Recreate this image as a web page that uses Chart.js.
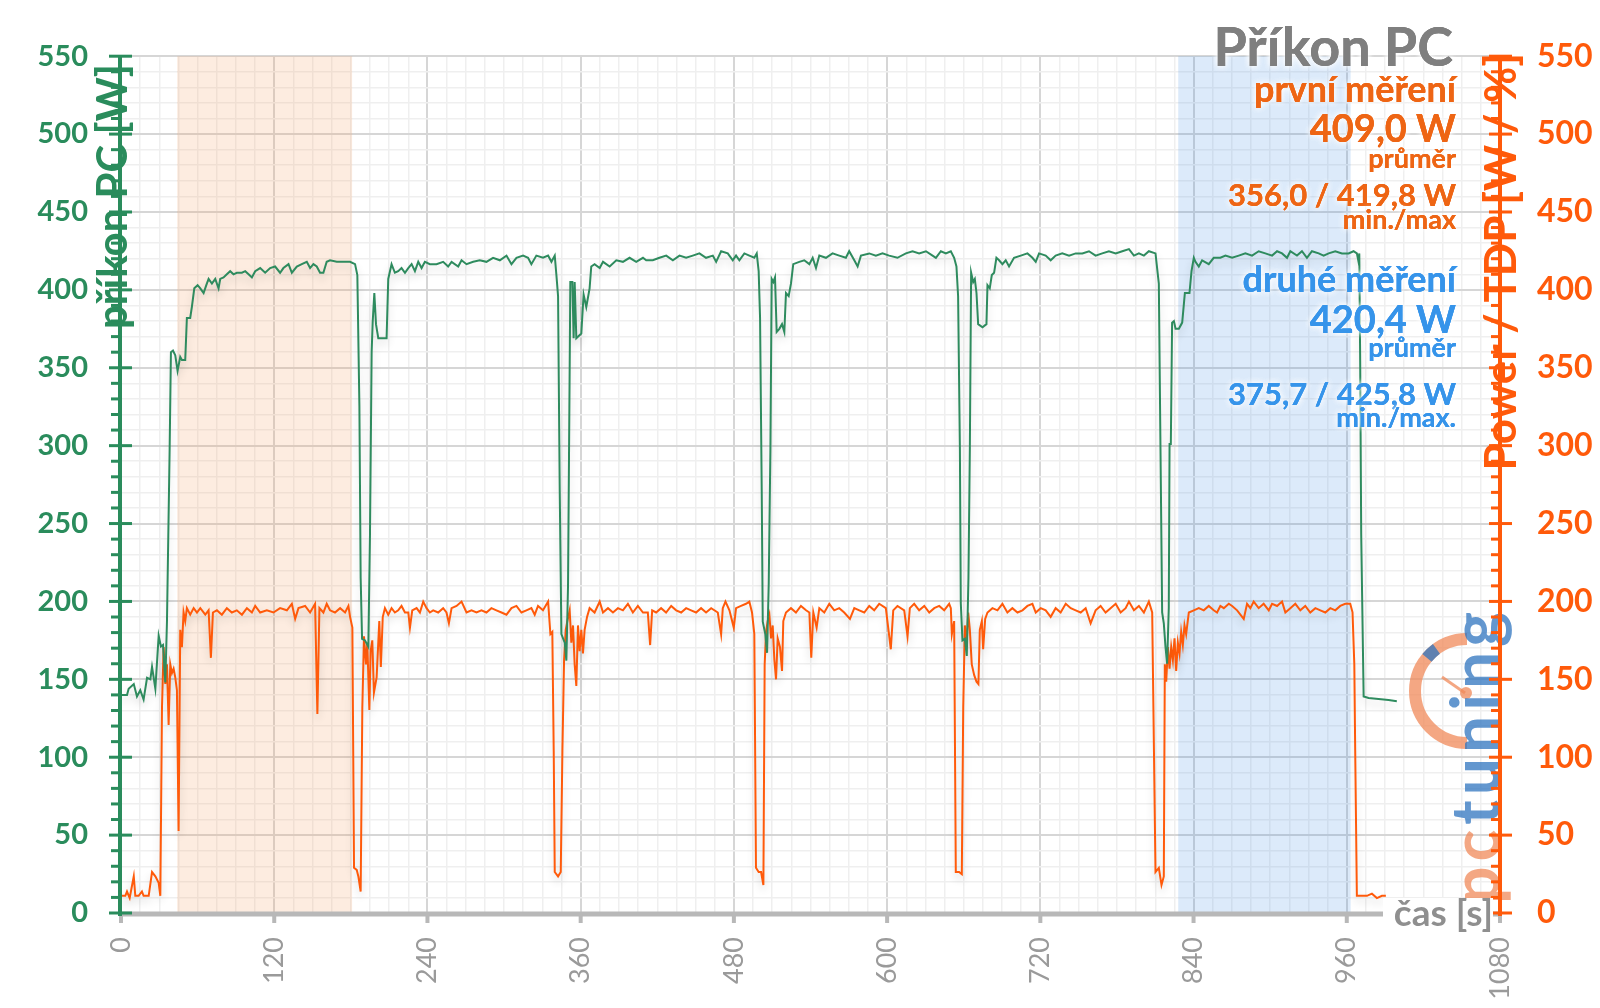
<!DOCTYPE html>
<html>
<head>
<meta charset="utf-8">
<script src="https://cdn.jsdelivr.net/npm/chart.js@4.4.1/dist/chart.umd.min.js"></script>
<style>
    body { margin: 0; background: #fff; }
    canvas { display: block; }
</style>
</head>
<body>
<canvas id="chart" width="1600" height="1008"></canvas>
<script>
// příkon PC [W] - time [s] / value
const pcTime = [
    0, 4.7, 6, 10, 12.5, 15.1, 17.7, 20.4, 23, 24.3, 26.9, 29.5, 31.3, 32.9, 34.7, 36, 38.1, 39.1, 40.7, 42.5,
    44.3, 46.4, 47.7, 50.3, 51.6, 54.2, 55.5, 57.4, 60, 62.1, 64.7, 66.8, 68.6, 71.2, 73.8, 76.4, 77.7, 80.3, 82.9, 85.5,
    88.1, 90.7, 94.7, 97.3, 99.9, 102.5, 105.1, 109, 112.9, 116.8, 120.7, 124.6, 127.2, 131.2, 133.8, 137.7, 141.6, 145.5, 148.1, 150.7,
    153.3, 155.9, 158.5, 161.1, 163.7, 169, 174.2, 179.4, 183.3, 185.1, 186.7, 187.7, 188.8, 191.1, 193.7, 195, 196.3, 197.1, 198.4, 199.7,
    201.5, 208, 209.3, 211.9, 214.5, 217.1, 219.7, 222.4, 225, 227.6, 230.2, 232.8, 235.4, 238, 241.9, 247.1, 252.3, 256.2, 258.9, 264.1,
    266.7, 270.6, 275.8, 281, 286.2, 291.4, 296.7, 301.9, 305.8, 309.7, 314.9, 318.8, 321.4, 325.3, 330.5, 334.5, 337.1, 339.7, 341, 342.3,
    343.6, 344.9, 347.5, 348.8, 350.1, 351.9, 353.5, 354.5, 355.3, 356.6, 360.5, 362.3, 364.4, 367, 368.3, 370.9, 374.9, 377.5, 382.7, 387.9,
    393.1, 398.3, 403.5, 408.8, 411.3, 416.5, 421.7, 427, 432.2, 437.4, 442.6, 447.8, 453, 458.2, 463.5, 466.1, 470, 475.2, 479.1, 481.7,
    484.3, 488.2, 492.1, 496, 497.9, 499.4, 500.5, 501.8, 502.6, 504.6, 506, 507.3, 508.6, 509.6, 510.9, 512.2, 513.5, 515.6, 517.7, 519.5,
    520.8, 522.9, 524.7, 526.5, 531.2, 535.1, 539.1, 541.7, 544.3, 546.9, 552.1, 557.3, 562.5, 567.7, 570.3, 574.3, 576.9, 579.5, 586, 591.2,
    596.4, 601.6, 608.1, 614.7, 619.9, 625.1, 630.4, 635.6, 638.2, 642.1, 646, 649.9, 652.5, 654.3, 655.6, 657, 657.7, 659, 660.9, 662.4,
    663.7, 664.8, 665.8, 667.4, 668.7, 670, 671.3, 674.7, 677.8, 678.6, 680.4, 682, 683.8, 685.6, 687.7, 690.3, 692.9, 695.5, 699.4, 704.7,
    709.9, 713.8, 716.4, 719, 724.2, 728.1, 732, 737.2, 742.5, 747.7, 752.9, 758.1, 763.3, 768.5, 773.7, 779, 784.2, 789.4, 793.3, 797.2,
    801.1, 805, 810.2, 812.8, 814.1, 815.4, 816.7, 818, 819.3, 820.6, 821.2, 822.2, 823.2, 824.6, 825.9, 828.5, 831.1, 833.2, 836.8, 838.4,
    840.2, 841.5, 844.1, 846.7, 851.9, 855.8, 861, 865, 870.2, 875.4, 880.6, 885.8, 891, 896.2, 901.5, 905.4, 909.3, 913.2, 915.8, 921,
    924.9, 928.8, 932.7, 938, 941.9, 945.8, 951, 956.2, 961.4, 965.3, 967.9, 969.2, 969.8, 970.5, 971.3, 973.2, 977.1, 984.9, 992.7, 999.2
];
const pcWatts = [
    140, 140, 144, 147, 139, 143, 137, 151, 150, 158, 144, 178, 171, 172, 148, 187, 298, 360, 361, 358,
    348, 357, 355, 355, 382, 382, 389, 401, 403, 401, 398, 403, 407, 404, 407, 401, 407, 408, 410, 412,
    410, 411, 411, 412, 410, 408, 412, 414, 411, 414, 415, 411, 414, 416.5, 411, 415, 416.5, 418, 414, 416.5,
    415, 411, 411, 418, 419, 418, 418, 418, 416.5, 409.5, 326, 215, 176, 175, 171, 243, 360, 379, 398, 378,
    369, 369, 407, 416.5, 411, 412, 414, 411, 414, 416.5, 412, 418, 414, 418, 416.5, 416.5, 418, 415, 418, 415,
    419, 416.5, 418, 419, 418, 420.6, 419, 422, 416.5, 420.6, 422, 420.6, 416.5, 422, 420.6, 422, 418, 422, 409.5, 396,
    271, 179, 173.5, 162, 210, 405, 405, 369, 405, 369, 372, 397, 389, 401, 415, 416.5, 414, 418, 415, 419,
    418, 420.6, 418, 420.6, 419, 419, 420.6, 422, 419, 422, 420.6, 422, 423.4, 420.6, 422, 418, 424.8, 423.4, 419, 422,
    419, 423.4, 422, 420.6, 423.4, 412, 382, 271, 187, 179, 167, 212, 298, 407, 405, 408, 373, 375, 378, 373,
    398, 396, 404, 416.5, 418, 419, 416.5, 420.6, 414, 422, 420.6, 423.4, 422, 420.6, 424.8, 419, 415, 422, 423.4, 422,
    423.4, 422, 420.6, 423.4, 424.8, 423.4, 424.8, 422, 420.6, 424.8, 423.4, 424.8, 420.6, 415, 396, 298, 199, 175, 176, 165,
    215, 298, 411, 405, 407, 398, 378, 376, 378, 403, 401, 409.5, 411, 420.6, 419, 416.5, 419, 415, 420.6, 422,
    423.4, 420.6, 418, 423.4, 422, 419, 422, 423.4, 422, 423.4, 423.4, 424.8, 422, 423.4, 424.8, 423.4, 424.8, 426.2, 422, 423.4,
    422, 424.8, 423.4, 404, 298, 193, 186, 171, 160, 196, 301, 301, 379, 380, 375, 375, 379, 398, 398, 412,
    420.6, 418, 415, 419, 416.5, 420.6, 420.6, 422, 420.6, 422, 423.4, 422, 424.8, 423.4, 422, 424.8, 423.4, 420.6, 424.8, 422,
    424.8, 420.6, 424.8, 423.4, 422, 423.4, 424.8, 423.4, 423.4, 424.8, 423.4, 418, 423.4, 354, 243, 139, 138, 137.4, 136.8, 136
];

// Power / TDP [W / %] - time [s] / value
const tdpTime = [
    0, 3.4, 4.7, 6.8, 10, 11.2, 13.8, 16.4, 17.7, 21.7, 24.3, 26.9, 29.5, 30.8, 32.1, 33.4, 34.7, 36, 37.3, 38.6,
    39.9, 41.2, 42.5, 43.8, 45.1, 46.4, 47.7, 49, 50.3, 51.6, 54.2, 56.9, 59.5, 62.1, 66, 68.6, 70.4, 72, 75.1, 79,
    82.9, 86.8, 90.7, 94.7, 98.6, 102.5, 105.1, 109, 114.2, 119.4, 124.6, 129.9, 133.8, 136.4, 139, 144.2, 148.1, 152, 153.8, 155.4,
    158.5, 161.1, 163.7, 167.6, 171.6, 175.5, 178.1, 179.4, 181.2, 182.5, 184.6, 185.9, 187.7, 189, 190.3, 191.9, 192.9, 194.5, 195.5, 196.8,
    198.1, 200.2, 202.3, 203.5, 205, 206.7, 209.3, 211.9, 214.5, 217.1, 219.7, 222.4, 225, 226.3, 228.1, 231.5, 234.1, 236.7, 239.3, 241.9,
    244.5, 248.4, 252.3, 254.9, 256.8, 258.9, 262.8, 266.7, 270.6, 274.5, 278.4, 282.3, 286.2, 290.1, 294, 298, 301.9, 305.8, 309.7, 313.6,
    317.5, 321.4, 324, 326.6, 330.5, 334.5, 336.3, 337.8, 338.9, 339.7, 342.3, 344.4, 345.7, 347, 348.3, 349.6, 351.4, 352.7, 354, 355.3,
    356.6, 357.9, 359.2, 360.5, 361.8, 363.1, 365, 367, 370.9, 374.9, 377.5, 381.4, 385.3, 389.2, 393.1, 397, 400.9, 404.8, 408.8, 412.6,
    414.4, 416, 419.1, 423, 426.9, 430.9, 434.8, 438.7, 442.6, 446.5, 450.4, 454.3, 458.2, 462.2, 467.4, 470, 471.3, 473.4, 476.5, 479.9,
    481.7, 485.6, 489.5, 492.1, 494.2, 496, 497.3, 499.4, 501.3, 503.1, 504.1, 505.2, 506.5, 507.8, 509.1, 510.4, 511.7, 513, 514.3, 516.1,
    517.7, 518.7, 520.8, 524.7, 528.6, 532.5, 536.5, 539.1, 540.6, 542.2, 544.8, 546.9, 550.8, 554.7, 558.6, 562.5, 566.4, 570.9, 574.3, 578.2,
    582.1, 586, 589.9, 593.8, 599, 602.9, 604.8, 608.1, 613.4, 616, 617.8, 621.2, 625.1, 629.1, 633, 636.9, 640.8, 644.7, 648.6, 649.9,
    650.7, 652.5, 653.8, 656.4, 658.5, 659.6, 660.9, 662.2, 663.5, 664.8, 666.3, 668.2, 670, 671.5, 672.6, 674.2, 675.2, 676.8, 678.6, 682.5,
    686.4, 690.3, 694.2, 698.1, 702.1, 706, 709.9, 713.8, 716.4, 720.3, 724.2, 728.1, 732, 735.9, 739.9, 743.8, 747.7, 751.6, 755.5, 759.4,
    763.3, 767.2, 771.1, 775, 779, 782.9, 786.8, 789.4, 793.3, 797.2, 801.1, 805, 807.6, 810.2, 812.8, 814.9, 816.7, 817.5, 818.6, 819.9,
    821.2, 822.5, 823.8, 825.1, 826.4, 827.7, 829, 830.3, 831.6, 832.9, 834.2, 836.3, 840.2, 844.1, 848, 851.9, 855.8, 858.4, 861, 863.7,
    867.6, 870.2, 874.1, 879.3, 881.9, 884.5, 887.1, 891, 894.9, 898.9, 901.5, 905.4, 909.3, 911.9, 915.8, 919.7, 923.6, 927.5, 931.4, 935.4,
    939.3, 943.2, 947.1, 951, 954.9, 958.8, 962.7, 964.5, 965.9, 966.6, 967.9, 971.8, 975.8, 979.7, 983.6, 987.5, 990.6
];
const tdpWatts = [
    11, 11, 13.8, 9.6, 23.5, 11, 11, 13.8, 11, 11, 26.3, 23.5, 19.4, 11, 131.8, 170.7, 147, 159.6, 120.7, 159.6,
    154, 156.8, 151.3, 143, 52.7, 181.8, 170.7, 193, 187.4, 195.7, 191.5, 195.7, 192.9, 195.7, 191.5, 194.3, 163.8, 192.9, 194.3, 191.5,
    195.7, 192.9, 194.3, 191.5, 195.7, 192.9, 197.1, 192.9, 194.3, 192.9, 195.7, 194.3, 198.5, 188.8, 195.7, 197.1, 192.9, 198.5, 127.7, 195.7,
    192.9, 198.5, 194.3, 192.9, 195.7, 192.9, 197.1, 190.1, 183.2, 29, 27.7, 23.5, 13.8, 131.8, 177.6, 159.6, 173.5, 130.4, 168, 175,
    141.5, 151.3, 187.4, 158, 190, 195.7, 191.5, 195.7, 192.9, 194.3, 197.1, 192.9, 192.9, 183.2, 194.3, 195.7, 192.9, 199.9, 195.7, 192.9,
    194.3, 192.9, 195.7, 192.9, 186, 195.7, 197.1, 199.9, 192.9, 194.3, 192.9, 194.3, 192.9, 195.7, 194.3, 192.9, 191.5, 195.7, 197.1, 192.9,
    194.3, 195.7, 191.5, 197.1, 194.3, 199.9, 179, 180.4, 104, 26.3, 23.5, 26.3, 104, 162.4, 181.8, 187.4, 194.3, 173.5, 184.6, 159.6,
    145.7, 184.6, 168, 181.8, 166.6, 181.8, 190.1, 195.7, 192.9, 199.9, 192.9, 195.7, 192.9, 195.7, 194.3, 198.5, 192.9, 197.1, 192.9, 192.9,
    172, 194.3, 192.9, 195.7, 192.9, 197.1, 194.3, 192.9, 195.7, 194.3, 192.9, 195.7, 192.9, 195.7, 192.9, 179, 195.7, 199.9, 194.3, 183.2,
    195.7, 197.1, 198.5, 199.9, 192.9, 179, 29, 26.3, 26.3, 18, 159.6, 180.4, 187.4, 191.5, 176.3, 184.6, 162.4, 150, 176.3, 170.7,
    155.4, 187.4, 192.9, 195.7, 192.9, 197.1, 194.3, 192.9, 163.8, 192.9, 183.2, 195.7, 192.9, 198.5, 194.3, 195.7, 192.9, 188.8, 195.7, 194.3,
    192.9, 197.1, 194.3, 198.5, 195.7, 169.3, 194.3, 197.1, 194.3, 177.6, 195.7, 198.5, 194.3, 197.1, 192.9, 195.7, 197.1, 194.3, 198.5, 195.7,
    179, 187.4, 26.3, 26.3, 24.9, 131.8, 184.6, 170.7, 192.9, 181.8, 159.6, 152.7, 148.5, 147, 181.8, 187.4, 169.3, 188.8, 192.9, 195.7,
    194.3, 198.5, 192.9, 195.7, 192.9, 194.3, 197.1, 198.5, 192.9, 195.7, 194.3, 190.1, 195.7, 192.9, 198.5, 195.7, 194.3, 192.9, 195.7, 186,
    194.3, 197.1, 192.9, 195.7, 198.5, 192.9, 195.7, 199.9, 194.3, 197.1, 192.9, 199.9, 193, 26.3, 29, 18, 23.5, 159.6, 148.5, 170.7,
    156.8, 170.7, 162.4, 176.3, 155.4, 173.5, 166.6, 180.4, 172, 184.6, 179, 192.9, 194.3, 195.7, 194.3, 197.1, 194.3, 192.9, 197.1, 195.7,
    198.5, 197.1, 194.3, 188.8, 198.5, 195.7, 199.9, 195.7, 198.5, 194.3, 198.5, 197.1, 199.9, 192.9, 195.7, 198.5, 194.3, 197.1, 192.9, 195.7,
    194.3, 192.9, 195.7, 194.3, 197.1, 198.5, 198.5, 193, 159.6, 104, 11, 11, 11, 12.4, 9.6, 11, 11
];

const xTickLabels = [0, 120, 240, 360, 480, 600, 720, 840, 960, 1080];
const yTickLabels = [0, 50, 100, 150, 200, 250, 300, 350, 400, 450, 500, 550];

// measured windows [s]
const firstRun = [44, 181];
const secondRun = [828, 963];

const firstLines = ["první měření", "409,0 W", "průměr", "356,0 / 419,8 W", "min./max"];
const secondLines = ["druhé měření", "420,4 W", "průměr", "375,7 / 425,8 W", "min./max."];

const GREEN = "#2a8c5c";
const ORANGE = "#ff5a0a";
const ORANGE_TEXT = "#ee6514";
const BLUE_TEXT = "#3694ea";
const FONT = "Lato, 'Open Sans', sans-serif";

function toPoints(times, values) {
    return times.map((t, i) => ({ x: t, y: values[i] }));
}

function haloText(ctx, text, x, y) {
    ctx.save();
    ctx.shadowColor = "rgba(255,255,255,1)";
    ctx.shadowBlur = 6;
    ctx.fillText(text, x, y);
    ctx.fillText(text, x, y);
    ctx.restore();
    ctx.fillText(text, x, y);
}

const decorPlugin = {
    id: "decor",
    beforeDatasetsDraw(chart) {
        const { ctx, chartArea, scales } = chart;
        const x = scales.x;
        ctx.save();
        // shaded measurement windows
        ctx.fillStyle = "rgba(245,160,100,0.2)";
        let a = x.getPixelForValue(firstRun[0]);
        let b = x.getPixelForValue(firstRun[1]);
        ctx.fillRect(a, chartArea.top, b - a, chartArea.bottom - chartArea.top);
        ctx.fillStyle = "rgba(60,140,230,0.18)";
        a = x.getPixelForValue(secondRun[0]);
        b = x.getPixelForValue(secondRun[1]);
        ctx.fillRect(a, chartArea.top, b - a, chartArea.bottom - chartArea.top);

        // watermark
        ctx.globalAlpha = 0.75;
        ctx.strokeStyle = "#f08a5a";
        ctx.lineWidth = 12;
        ctx.beginPath();
        ctx.arc(1467, 691, 52, Math.PI / 2, Math.PI * 1.5);
        ctx.stroke();
        ctx.strokeStyle = "#2f74bf";
        ctx.beginPath();
        ctx.arc(1467, 691, 52, Math.PI * 1.22, Math.PI * 1.3);
        ctx.stroke();
        ctx.strokeStyle = "#f08a5a";
        ctx.lineWidth = 3;
        ctx.beginPath();
        ctx.moveTo(1442, 677);
        ctx.lineTo(1465, 693);
        ctx.stroke();
        ctx.fillStyle = "#f08a5a";
        ctx.beginPath();
        ctx.arc(1466, 693, 6, 0, Math.PI * 2);
        ctx.fill();

        ctx.translate(1499, 904);
        ctx.rotate(-Math.PI / 2);
        ctx.font = "bold 66px " + FONT;
        ctx.letterSpacing = "5px";
        ctx.textAlign = "left";
        ctx.fillStyle = "#f08a5a";
        ctx.fillText("pc", 0, 0);
        const w = ctx.measureText("pc").width;
        ctx.fillStyle = "#2f74bf";
        ctx.fillText("tuning", w, 0);
        ctx.restore();
    },
    beforeDatasetDraw(chart) {
        const ctx = chart.ctx;
        ctx.save();
        ctx.shadowColor = "rgba(0,0,0,0.16)";
        ctx.shadowBlur = 8;
        ctx.shadowOffsetY = 5;
    },
    afterDatasetDraw(chart) {
        chart.ctx.restore();
    },
    afterDraw(chart) {
        const { ctx, chartArea, scales } = chart;
        const x = scales.x;
        const y = scales.y;
        const left = chartArea.left - 1;
        const right = chartArea.right;
        const bottom = chartArea.bottom;
        ctx.save();

        // x axis
        ctx.strokeStyle = "#b8b8b8";
        ctx.lineWidth = 5;
        ctx.beginPath();
        ctx.moveTo(left, bottom + 1);
        ctx.lineTo(right, bottom + 1);
        ctx.stroke();
        ctx.lineWidth = 4;
        xTickLabels.forEach((v) => {
            const px = x.getPixelForValue(v);
            ctx.beginPath();
            ctx.moveTo(px, bottom + 1);
            ctx.lineTo(px, bottom + 10);
            ctx.stroke();
        });

        // y axes with minor ticks
        const drawAxis = (px, color) => {
            ctx.strokeStyle = color;
            ctx.lineWidth = 4;
            ctx.beginPath();
            ctx.moveTo(px, chartArea.top);
            ctx.lineTo(px, bottom + 3);
            ctx.stroke();
            ctx.lineWidth = 3;
            for (let v = 0; v <= 550; v += 10) {
                const py = y.getPixelForValue(v);
                const major = v % 50 === 0;
                ctx.beginPath();
                ctx.moveTo(major ? px - 11 : px - 9, py);
                ctx.lineTo(major ? px + 12 : px, py);
                ctx.stroke();
            }
        };
        drawAxis(left, GREEN);
        drawAxis(right, ORANGE);

        // x axis title
        ctx.fillStyle = "#fff";
        ctx.fillRect(1383, 898, 110, 37);
        ctx.fillStyle = "#8f8f8f";
        ctx.font = "bold 37px " + FONT;
        ctx.textAlign = "right";
        ctx.textBaseline = "alphabetic";
        ctx.fillText("čas [s]", 1493, 926);

        // y axis titles
        ctx.save();
        ctx.translate(127, 64);
        ctx.rotate(-Math.PI / 2);
        ctx.fillStyle = GREEN;
        ctx.font = "bold 42px " + FONT;
        ctx.textAlign = "right";
        ctx.fillText("příkon PC [W]", 0, 0);
        ctx.restore();

        ctx.save();
        ctx.translate(1516, 53);
        ctx.rotate(-Math.PI / 2);
        ctx.fillStyle = ORANGE;
        ctx.font = "bold 44px " + FONT;
        ctx.textAlign = "right";
        ctx.fillText("Power / TDP [W / %]", 0, 0);
        ctx.restore();

        // title and summary texts
        ctx.textAlign = "right";
        ctx.fillStyle = "#7f7f7f";
        ctx.font = "bold 54px " + FONT;
        haloText(ctx, "Příkon PC", 1453, 66);

        const sizes = [36, 38, 27, 31, 27];
        const firstY = [102, 142, 168, 206, 229];
        const secondY = [292, 333, 357, 405, 427];
        ctx.fillStyle = ORANGE_TEXT;
        firstLines.forEach((t, i) => {
            ctx.font = "bold " + sizes[i] + "px " + FONT;
            haloText(ctx, t, 1456, firstY[i]);
        });
        ctx.fillStyle = BLUE_TEXT;
        secondLines.forEach((t, i) => {
            ctx.font = "bold " + sizes[i] + "px " + FONT;
            haloText(ctx, t, 1456, secondY[i]);
        });
        ctx.restore();
    },
};

const isMajorX = (v) => xTickLabels.includes(v);
const isMajorY = (v) => yTickLabels.includes(v);

new Chart(document.getElementById("chart"), {
    type: "line",
    data: {
        datasets: [
            {
                label: "příkon PC [W]",
                data: toPoints(pcTime, pcWatts),
                borderColor: "#2e8b5e",
                borderWidth: 2,
                pointRadius: 0,
                tension: 0,
                yAxisID: "y",
            },
            {
                label: "Power / TDP [W / %]",
                data: toPoints(tdpTime, tdpWatts),
                borderColor: ORANGE,
                borderWidth: 2,
                pointRadius: 0,
                tension: 0,
                yAxisID: "y2",
            },
        ],
    },
    options: {
        responsive: false,
        animation: false,
        devicePixelRatio: 1,
        layout: { padding: { top: 54, left: 0, right: 0, bottom: 0 } },
        plugins: { legend: { display: false }, tooltip: { enabled: false } },
        scales: {
            x: {
                type: "linear",
                min: 0,
                max: 1080,
                afterFit: (s) => { s.height = 95; },
                afterBuildTicks: (s) => {
                    const t = [];
                    for (let v = 0; v <= 1080; v += 15) t.push({ value: v });
                    s.ticks = t;
                },
                ticks: {
                    autoSkip: false,
                    minRotation: 90,
                    maxRotation: 90,
                    padding: 24,
                    color: "#9a9a9a",
                    font: { family: FONT, size: 27 },
                    callback: (v) => (isMajorX(v) ? String(v) : ""),
                },
                grid: {
                    drawTicks: false,
                    color: (c) => (isMajorX(c.tick.value) ? "#d6d6d6" : "#efefef"),
                    lineWidth: (c) => (isMajorX(c.tick.value) ? 2 : 1.5),
                },
                border: { display: false },
            },
            y: {
                position: "left",
                min: 0,
                max: 550,
                afterFit: (s) => { s.width = 121; },
                afterBuildTicks: (s) => {
                    const t = [];
                    for (let v = 0; v <= 550; v += 10) t.push({ value: v });
                    s.ticks = t;
                },
                ticks: {
                    autoSkip: false,
                    padding: 33,
                    color: GREEN,
                    font: { family: FONT, size: 29, weight: "bold" },
                    callback: (v) => (isMajorY(v) ? String(v) : ""),
                },
                grid: {
                    drawTicks: false,
                    color: (c) => (isMajorY(c.tick.value) ? "#d6d6d6" : "#efefef"),
                    lineWidth: (c) => (isMajorY(c.tick.value) ? 2 : 1.5),
                },
                border: { display: false },
            },
            y2: {
                position: "right",
                min: 0,
                max: 550,
                afterFit: (s) => { s.width = 100; },
                afterBuildTicks: (s) => {
                    s.ticks = yTickLabels.map((v) => ({ value: v }));
                },
                ticks: {
                    autoSkip: false,
                    padding: 37,
                    color: ORANGE,
                    font: { family: FONT, size: 32, weight: "bold" },
                },
                grid: { display: false, drawTicks: false },
                border: { display: false },
            },
        },
    },
    plugins: [decorPlugin],
});
</script>
</body>
</html>
